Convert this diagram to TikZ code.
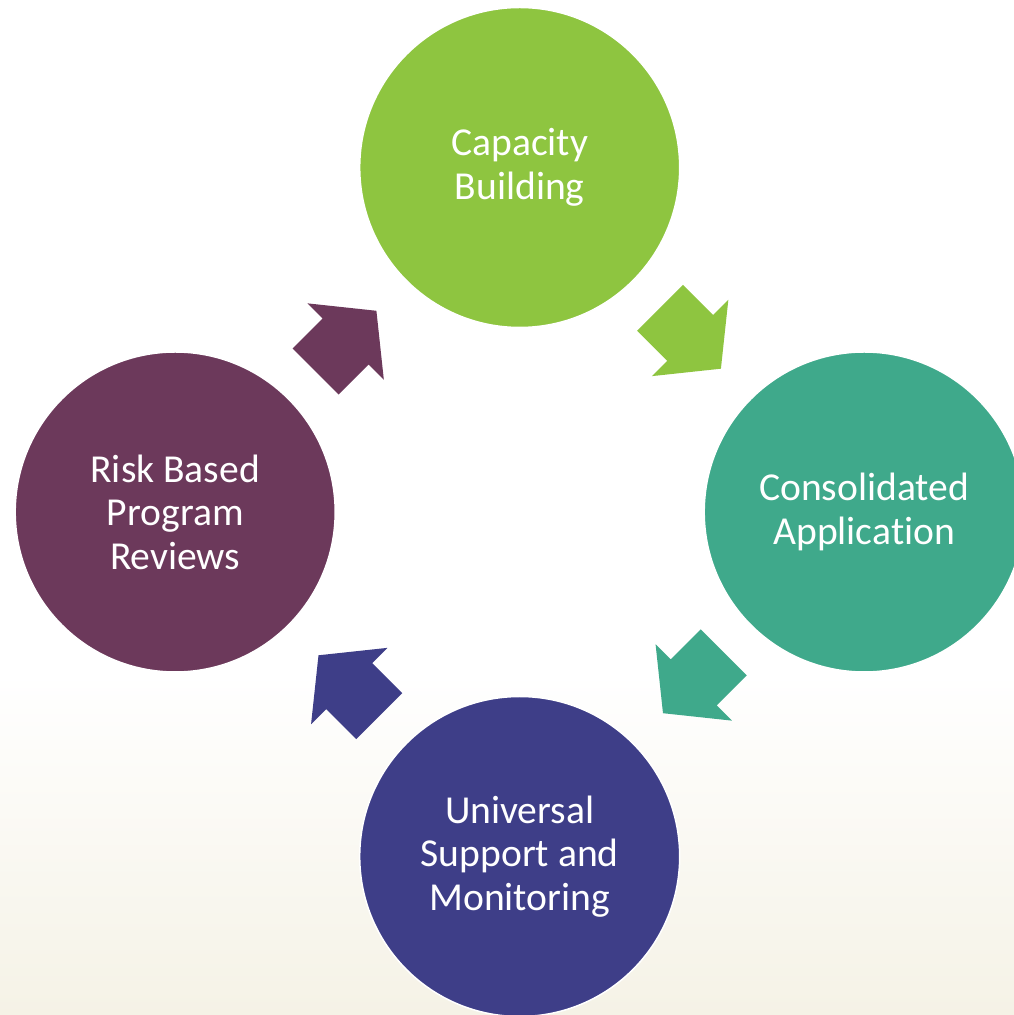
\documentclass[tikz,border=0pt]{standalone}
\usepackage{fontspec}
\setmainfont{Carlito}[Ligatures=NoCommon]
\usetikzlibrary{calc}
\definecolor{cgreen}{RGB}{142,197,64}
\definecolor{cteal}{RGB}{63,169,139}
\definecolor{cblue}{RGB}{62,62,136}
\definecolor{cpurple}{RGB}{108,57,91}
\definecolor{cream}{RGB}{245,242,230}
\tikzset{
  stagecircle/.style={circle, minimum size=320pt, inner sep=0pt, draw=white, line width=1.5pt,
    text=white, align=center, font=\fontsize{39.6}{43.5}\selectfont},
  blockarrow/.pic={
    \fill[pic actions] (0,32.5) -- (42.5,32.5) -- (42.5,54) -- (86,0) -- (42.5,-54)
      -- (42.5,-32.5) -- (0,-32.5) -- cycle;
  }
}
\begin{document}
\begin{tikzpicture}[x=1pt,y=1pt]
\useasboundingbox (0,0) rectangle (1014,1015);
\clip (0,0) rectangle (1014,1015);
\fill[white] (0,340) rectangle (1014,1015);
\shade[top color=white, bottom color=cream] (0,0) rectangle (1014,341);
\coordinate (center) at (519.7,503);
\node[stagecircle, fill=cgreen] (cap) at ($(center)+(0,344.5)$) {Capacity\\Building};
\node[stagecircle, fill=cteal] (con) at ($(center)+(344.5,0)$) {Consolidated\\Application};
\node[stagecircle, fill=cblue] (uni) at ($(center)+(0,-344.5)$) {Universal\\Support and\\Monitoring};
\node[stagecircle, fill=cpurple] (risk) at ($(center)+(-344.5,0)$) {Risk Based\\Program\\Reviews};
\pic[fill=cgreen, rotate=-45] at ($(center)+(140.4,204.1)$) {blockarrow};
\pic[fill=cteal, rotate=-135] at ($(center)+(204.1,-140.4)$) {blockarrow};
\pic[fill=cblue, rotate=135] at ($(center)+(-140.4,-204.1)$) {blockarrow};
\pic[fill=cpurple, rotate=45] at ($(center)+(-204.1,140.4)$) {blockarrow};
\end{tikzpicture}
\end{document}
